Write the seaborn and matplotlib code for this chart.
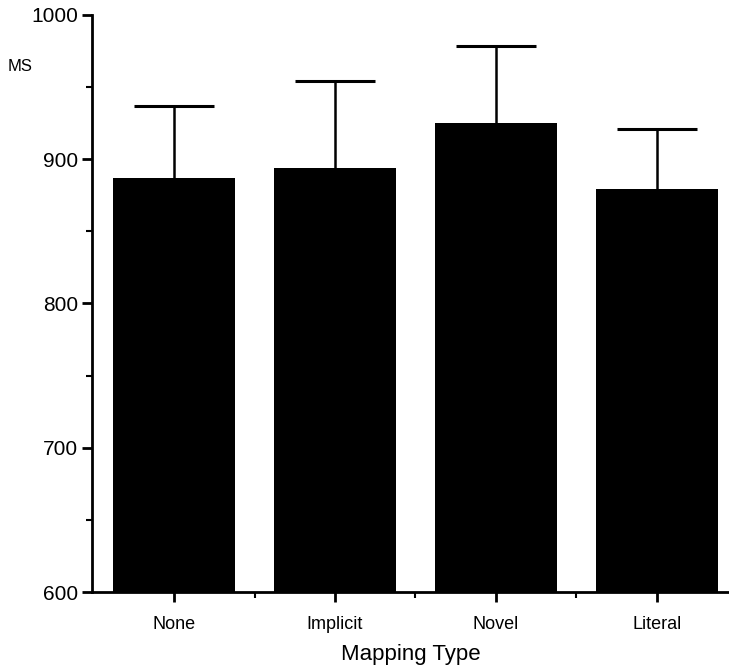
import numpy as np
import pandas as pd
import matplotlib
matplotlib.use('Agg')
import matplotlib.pyplot as plt
import seaborn as sns
from matplotlib.ticker import MultipleLocator, FixedLocator

# data
mapping_types = ['None', 'Implicit', 'Novel', 'Literal']
mean_ms = [887, 894, 925, 879]
upper_err = [50, 60, 53, 42]

df = pd.DataFrame({'mapping': mapping_types, 'ms': mean_ms})

sns.set_style('ticks')
plt.rcParams['font.family'] = ['Liberation Sans', 'DejaVu Sans']
plt.rcParams['text.color'] = 'black'
plt.rcParams['xtick.color'] = 'black'
plt.rcParams['ytick.color'] = 'black'
plt.rcParams['axes.labelcolor'] = 'black'

fig = plt.figure(figsize=(7.29, 6.67), dpi=100)
ax = fig.add_axes([0.1262, 0.1124, 0.874, 0.8656])

sns.barplot(data=df, x='mapping', y='ms', color='black', width=0.76,
            saturation=1, errorbar=None, linewidth=0, ax=ax)
for p in ax.patches:
    p.set_facecolor('black')
    p.set_linewidth(0)

# upper error bars only
eb = ax.errorbar(np.arange(len(mapping_types)), mean_ms,
                 yerr=[np.zeros(len(upper_err)), upper_err],
                 fmt='none', ecolor='black', elinewidth=1.8, capsize=29, capthick=2.2)
eb[1][0].remove()

ax.set_ylim(600, 1000)
ax.set_xlim(-0.51, 3.45)
ax.yaxis.set_major_locator(MultipleLocator(100))
ax.yaxis.set_minor_locator(MultipleLocator(50))
ax.xaxis.set_minor_locator(FixedLocator([0.5, 1.5, 2.5]))

sns.despine(ax=ax, top=True, right=True)
for s in ['left', 'bottom']:
    ax.spines[s].set_linewidth(2)
    ax.spines[s].set_color('black')

ax.tick_params(axis='y', which='major', length=7, width=2, labelsize=15, pad=3)
ax.tick_params(axis='y', which='minor', length=4, width=1.5)
ax.tick_params(axis='x', which='major', length=7, width=2, labelsize=13, pad=10)
ax.tick_params(axis='x', which='minor', length=4, width=1.5)

ax.set_ylabel('')
ax.set_xlabel('Mapping Type', fontsize=16, labelpad=8)
fig.text(0.011, 0.9, 'MS', fontsize=12, ha='left', va='center')

plt.savefig('out.png', dpi=100)
